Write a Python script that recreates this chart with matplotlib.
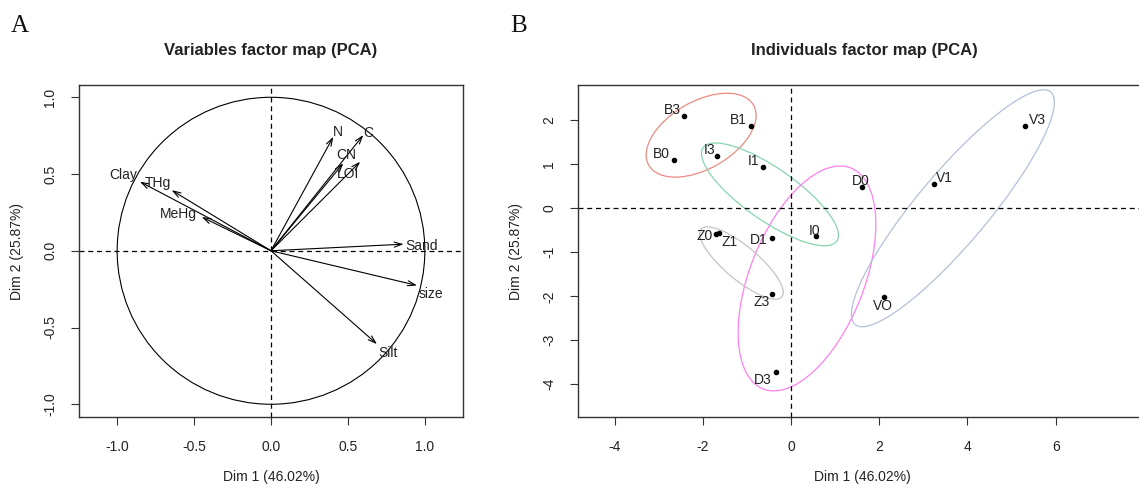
import numpy as np
import matplotlib
matplotlib.use("Agg")
from matplotlib import pyplot as plt
from matplotlib.patches import Circle, Ellipse

# ---- data ----
var_names = ["N", "C", "CN", "LOI", "Clay", "THg", "MeHg", "Sand", "size", "Silt"]
var_dim1 = [0.405, 0.60, 0.47, 0.58, -0.852, -0.646, -0.45, 0.862, 0.949, 0.689]
var_dim2 = [0.743, 0.754, 0.57, 0.58, 0.45, 0.395, 0.22, 0.043, -0.226, -0.608]

ind_names = ["B0", "B1", "B3", "I0", "I1", "I3", "D0", "D1", "D3",
             "Z0", "Z1", "Z3", "VO", "V1", "V3"]
ind_dim1 = [-2.66, -0.90, -2.42, 0.56, -0.64, -1.67, 1.61, -0.43, -0.35,
            -1.71, -1.63, -0.43, 2.10, 3.25, 5.31]
ind_dim2 = [1.09, 1.87, 2.10, -0.63, 0.93, 1.19, 0.48, -0.68, -3.73,
            -0.58, -0.56, -1.95, -2.02, 0.55, 1.87]

groups = ["B", "I", "D", "Z", "V"]
ell_cx = [-2.04, -0.48, 0.36, -1.125, 3.67]
ell_cy = [1.66, 0.315, -1.595, -1.245, 0.0]
ell_w = [2.74, 3.70, 5.40, 2.39, 6.9]
ell_h = [1.53, 1.19, 2.59, 0.76, 1.61]
ell_angle = [30, -35, 68.4, -40, 50]

left_ticks = [-1.0, -0.5, 0.0, 0.5, 1.0]
left_ticklabels = ["-1.0", "-0.5", "0.0", "0.5", "1.0"]
right_xticks = [-4, -2, 0, 2, 4, 6]
right_yticks = [-4, -3, -2, -1, 0, 1, 2]

# ---- styling ----
ell_colors = {"B": "#ea8a84", "I": "#86d6ad", "D": "#ff80f2", "Z": "#c4c4c4", "V": "#b3c0d8"}
var_offsets = {"N": (5, 5), "C": (5, 2), "CN": (3, 8), "LOI": (-12, -12),
               "Clay": (-17, 7), "THg": (-14, 7), "MeHg": (-23, 3),
               "Sand": (18, -2), "size": (14, -9), "Silt": (11, -9)}
ind_offsets = {"B3": (-12, 6), "B1": (-13, 6), "B0": (-12, 6), "I3": (-8, 6),
               "I1": (-9, 6), "D0": (-1, 6), "V1": (10, 6), "V3": (12, 6),
               "I0": (-1, 5), "Z0": (-11, -2), "Z1": (10, -9), "D1": (-13, -2),
               "Z3": (-11, -8), "VO": (-1, -9), "D3": (-13, -8)}

plt.rcParams["font.family"] = ["Liberation Sans", "DejaVu Sans"]
W, H = 1139, 486
fig = plt.figure(figsize=(W / 100, H / 100), dpi=100)
dash = (0, (4, 3))
spine_col = "#333333"


def style_axes(ax):
    for s in ax.spines.values():
        s.set_color(spine_col)
        s.set_linewidth(1.0)
    ax.tick_params(direction="out", length=5.5, width=0.8, color=spine_col,
                   labelsize=10, labelcolor="#222222")
    ax.tick_params(axis="x", pad=11)
    ax.tick_params(axis="y", pad=10)


# ---- A: variables factor map ----
ax1 = fig.add_axes([79 / W, (H - 417) / H, 384 / W, 332 / H])
ax1.set_xlim(-1.248, 1.248)
ax1.set_ylim(-1.083, 1.08)
ax1.add_patch(Circle((0, 0), 1, fill=False, lw=0.8, color="black"))
ax1.axhline(0, ls=dash, lw=0.9, color="black")
ax1.axvline(0, ls=dash, lw=0.9, color="black")
for name, x, y in zip(var_names, var_dim1, var_dim2):
    ax1.annotate("", xy=(x, y), xytext=(0, 0),
                 arrowprops=dict(arrowstyle="->,head_length=0.55,head_width=0.18",
                                 lw=0.8, color="black", shrinkA=0, shrinkB=0))
    ax1.annotate(name, xy=(x, y), xytext=var_offsets[name], textcoords="offset pixels",
                 ha="center", va="center", fontsize=10, color="#222222")
ax1.set_xticks(left_ticks)
ax1.set_xticklabels(left_ticklabels)
ax1.set_yticks(left_ticks)
ax1.set_yticklabels(left_ticklabels, rotation=90, va="center")
style_axes(ax1)

# ---- B: individuals factor map ----
ax2 = fig.add_axes([577.7 / W, (H - 417) / H, (1150 - 577.7) / W, 332 / H])
ax2.set_xlim(-4.84, 8.14)
ax2.set_ylim(-4.743, 2.80)
ax2.axhline(0, ls=dash, lw=0.9, color="black")
ax2.axvline(0, ls=dash, lw=0.9, color="black")
for g, cx, cy, w, h, a in zip(groups, ell_cx, ell_cy, ell_w, ell_h, ell_angle):
    ax2.add_patch(Ellipse((cx, cy), w, h, angle=a, fill=False,
                          lw=0.9, color=ell_colors[g]))
ax2.scatter(ind_dim1, ind_dim2, s=9, color="black", zorder=3)
for name, x, y in zip(ind_names, ind_dim1, ind_dim2):
    ax2.annotate(name, xy=(x, y), xytext=ind_offsets[name], textcoords="offset pixels",
                 ha="center", va="center", fontsize=10, color="#222222")
ax2.set_xticks(right_xticks)
ax2.set_xticklabels([str(t) for t in right_xticks])
ax2.set_yticks(right_yticks)
ax2.set_yticklabels([str(t) for t in right_yticks], rotation=90, va="center")
style_axes(ax2)

# ---- titles, axis titles, panel letters ----
def px(x, y):
    return x / W, 1 - y / H


fig.text(*px(271, 51), "Variables factor map (PCA)", ha="center", va="center",
         fontsize=12, fontweight="bold", color="#222222")
fig.text(*px(864, 51), "Individuals factor map (PCA)", ha="center", va="center",
         fontsize=12, fontweight="bold", color="#222222")
fig.text(*px(271, 477), "Dim 1 (46.02%)", ha="center", va="center", fontsize=10, color="#222222")
fig.text(*px(862, 477), "Dim 1 (46.02%)", ha="center", va="center", fontsize=10, color="#222222")
fig.text(*px(17, 251), "Dim 2 (25.87%)", ha="center", va="center", rotation=90,
         fontsize=10, color="#222222")
fig.text(*px(516, 251), "Dim 2 (25.87%)", ha="center", va="center", rotation=90,
         fontsize=10, color="#222222")
fig.text(*px(20, 26), "A", ha="center", va="center", fontsize=18,
         family="Liberation Serif", color="#111111")
fig.text(*px(519, 26), "B", ha="center", va="center", fontsize=18,
         family="Liberation Serif", color="#111111")

fig.savefig("out.png", dpi=100)
